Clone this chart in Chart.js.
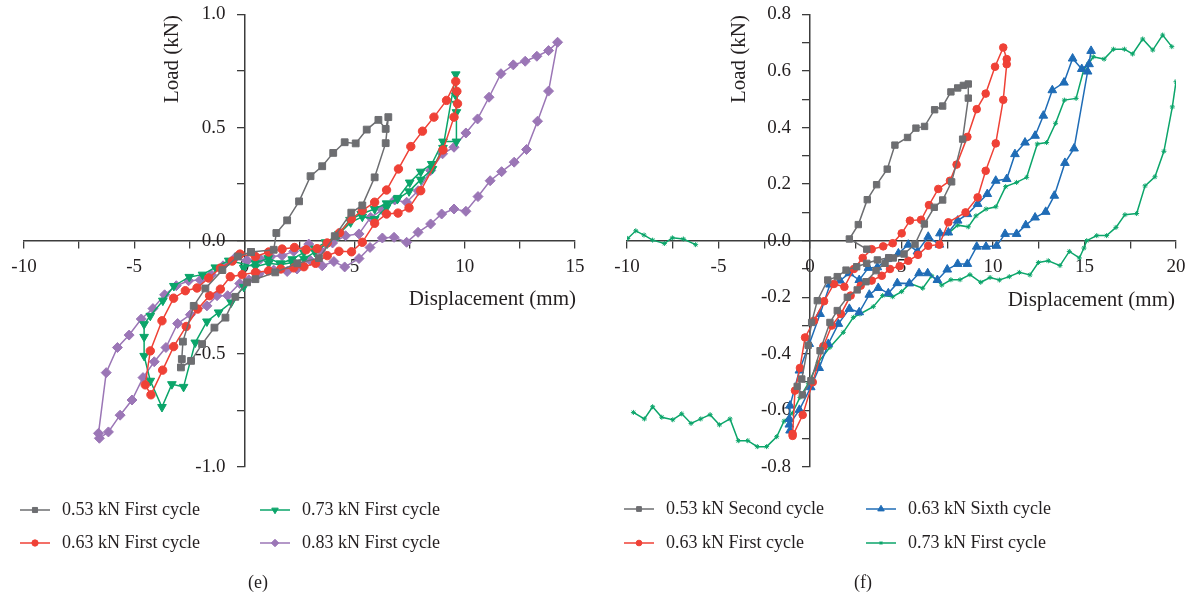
<!DOCTYPE html>
<html>
<head>
<meta charset="utf-8">
<script src="https://cdn.jsdelivr.net/npm/chart.js@4.4.1/dist/chart.umd.min.js"></script>
<style>
  html, body { margin: 0; padding: 0; background: #fff; }
  #wrap { position: relative; width: 1194px; height: 599px; }
  .panel { position: absolute; top: 0; width: 597px; height: 599px; }
</style>
</head>
<body>
<div id="wrap">
  <div class="panel" style="left:0"><canvas id="chartE"></canvas></div>
  <div class="panel" style="left:597px"><canvas id="chartF"></canvas></div>
</div>
<script>
// ---- panel (e) : first cycles, [displacement mm, load kN]
const e053 = [[0.30,-0.05],[1.33,-0.04],[1.45,0.034],[1.94,0.09],[2.48,0.174],[3.0,0.285],[3.53,0.329],[4.03,0.388],[4.55,0.435],[5.05,0.43],[5.55,0.491],[6.08,0.534],[6.41,0.494],[6.53,0.546],[6.41,0.431],[5.91,0.28],[5.35,0.156],[4.85,0.124],[4.1,0.02],[3.38,-0.077],[2.4,-0.1],[1.4,-0.14],[0.5,-0.17],[0.12,-0.184],[-0.41,-0.248],[-0.86,-0.34],[-1.36,-0.384],[-1.92,-0.457],[-2.42,-0.531],[-2.88,-0.56],[-2.84,-0.523],[-2.79,-0.446],[-2.3,-0.288],[-1.77,-0.211],[-1.0,-0.13],[-0.3,-0.07],[0.30,-0.05]];
const e063 = [[-0.2,-0.06],[0.5,-0.07],[1.1,-0.05],[1.71,-0.037],[2.27,-0.03],[2.8,-0.04],[3.3,-0.035],[3.76,-0.01],[4.32,0.035],[4.85,0.096],[5.35,0.133],[5.91,0.17],[6.45,0.224],[6.99,0.317],[7.55,0.416],[8.08,0.484],[8.6,0.546],[9.17,0.62],[9.59,0.704],[9.64,0.66],[9.67,0.605],[9.51,0.546],[9.01,0.401],[8.0,0.221],[7.47,0.145],[6.97,0.122],[6.45,0.118],[5.91,0.077],[5.35,-0.007],[4.86,-0.049],[4.29,-0.047],[3.76,-0.066],[3.23,-0.10],[2.7,-0.115],[2.24,-0.12],[1.65,-0.125],[1.1,-0.133],[0.5,-0.14],[-0.1,-0.15],[-0.64,-0.159],[-1.09,-0.214],[-1.58,-0.243],[-2.12,-0.302],[-2.64,-0.379],[-3.21,-0.468],[-3.71,-0.572],[-4.24,-0.681],[-4.5,-0.637],[-4.27,-0.487],[-3.74,-0.354],[-3.21,-0.254],[-2.68,-0.221],[-2.15,-0.209],[-1.62,-0.165],[-1.09,-0.121],[-0.55,-0.09],[-0.2,-0.06]];
const e073 = [[-0.03,-0.12],[0.5,-0.1],[1.08,-0.077],[1.64,-0.1],[2.17,-0.082],[2.7,-0.052],[3.2,-0.035],[3.68,-0.007],[4.21,0.022],[4.79,0.092],[5.3,0.118],[5.91,0.14],[6.45,0.165],[6.94,0.184],[7.47,0.218],[8.0,0.27],[8.53,0.317],[9.01,0.41],[9.59,0.735],[9.59,0.642],[9.62,0.605],[9.62,0.568],[9.62,0.438],[9.01,0.438],[8.5,0.339],[8.0,0.305],[7.5,0.257],[6.97,0.189],[6.45,0.147],[5.91,0.096],[5.35,0.106],[4.82,0.081],[4.29,0.03],[3.76,-0.012],[3.2,-0.05],[2.7,-0.08],[2.17,-0.096],[1.64,-0.106],[1.1,-0.1],[0.5,-0.115],[-0.71,-0.088],[-1.32,-0.118],[-1.9,-0.15],[-2.5,-0.16],[-3.2,-0.2],[-3.7,-0.265],[-4.27,-0.332],[-4.55,-0.369],[-4.55,-0.425],[-4.55,-0.509],[-4.27,-0.619],[-3.74,-0.735],[-3.29,-0.634],[-2.76,-0.646],[-2.23,-0.45],[-1.7,-0.357],[-1.17,-0.317],[-0.6,-0.273],[-0.03,-0.204]];
const e083 = [[0.12,-0.088],[0.73,-0.081],[1.2,-0.07],[1.71,-0.066],[2.24,-0.047],[2.92,-0.015],[3.45,-0.044],[4.0,-0.01],[4.59,0.022],[5.2,0.03],[5.73,0.103],[6.26,0.136],[6.82,0.18],[7.36,0.17],[7.88,0.221],[8.45,0.31],[8.99,0.384],[9.51,0.413],[10.05,0.476],[10.58,0.538],[11.1,0.634],[11.64,0.738],[12.2,0.777],[12.74,0.793],[13.27,0.815],[13.8,0.84],[14.21,0.877],[13.8,0.661],[13.3,0.528],[12.8,0.403],[12.24,0.347],[11.67,0.305],[11.15,0.265],[10.6,0.195],[10.05,0.13],[9.51,0.14],[8.95,0.118],[8.45,0.074],[7.88,0.037],[7.36,-0.007],[6.79,0.015],[6.26,0.012],[5.7,-0.03],[5.2,-0.079],[4.55,-0.116],[4.06,-0.092],[3.53,-0.111],[3.0,-0.088],[2.39,-0.125],[1.94,-0.136],[1.33,-0.13],[0.65,-0.148],[0.2,-0.173],[-0.21,-0.189],[-0.76,-0.243],[-1.24,-0.243],[-1.7,-0.288],[-2.45,-0.327],[-3.03,-0.366],[-3.56,-0.472],[-4.09,-0.535],[-4.6,-0.605],[-5.1,-0.704],[-5.64,-0.771],[-6.17,-0.845],[-6.58,-0.873],[-6.62,-0.851],[-6.27,-0.583],[-5.76,-0.472],[-5.23,-0.417],[-4.68,-0.346],[-4.15,-0.3],[-3.62,-0.239],[-3.09,-0.199],[-2.53,-0.177],[-2.0,-0.174],[-1.5,-0.15],[-0.97,-0.111],[-0.41,-0.074],[0.12,-0.088]];

// ---- panel (f)
const f053 = [[3.1,-0.03],[2.15,0.006],[2.64,0.057],[3.13,0.145],[3.64,0.198],[4.22,0.253],[4.64,0.338],[5.33,0.365],[5.79,0.398],[6.26,0.404],[6.81,0.463],[7.25,0.476],[7.7,0.526],[8.07,0.54],[8.38,0.549],[8.65,0.554],[8.65,0.504],[8.34,0.359],[7.74,0.208],[7.25,0.144],[6.79,0.118],[6.25,0.059],[5.74,-0.012],[5.14,-0.047],[4.55,-0.061],[4.1,-0.08],[3.61,-0.106],[3.06,-0.145],[2.58,-0.174],[2.04,-0.2],[1.49,-0.247],[1.09,-0.289],[0.55,-0.389],[0.05,-0.495],[-0.42,-0.545],[-0.7,-0.515],[-0.45,-0.489],[-0.1,-0.37],[0.09,-0.289],[0.4,-0.212],[0.97,-0.139],[1.49,-0.127],[1.97,-0.104],[2.55,-0.092],[3.1,-0.08],[3.68,-0.068],[4.3,-0.06]];
const f063 = [[-0.95,-0.683],[-0.82,-0.53],[-0.55,-0.45],[-0.27,-0.342],[0.22,-0.283],[0.77,-0.214],[1.31,-0.153],[1.88,-0.163],[2.4,-0.1],[2.88,-0.061],[3.37,-0.03],[4.0,-0.02],[4.52,-0.009],[5.01,0.026],[5.46,0.071],[6.07,0.074],[6.5,0.126],[7.01,0.183],[7.65,0.212],[8.01,0.269],[8.6,0.367],[9.11,0.465],[9.6,0.52],[10.11,0.615],[10.56,0.683],[10.75,0.642],[10.75,0.624],[10.56,0.498],[10.15,0.344],[9.6,0.247],[9.16,0.153],[8.5,0.1],[7.56,0.065],[7.07,-0.014],[6.46,-0.018],[5.9,-0.05],[5.37,-0.071],[4.9,-0.09],[4.37,-0.1],[3.92,-0.124],[3.37,-0.141],[2.77,-0.159],[2.22,-0.194],[1.69,-0.259],[1.19,-0.3],[0.73,-0.373],[0.15,-0.5],[-0.4,-0.616],[-0.95,-0.69]];
const f063six = [[-1.09,-0.671],[-1.13,-0.63],[-1.09,-0.583],[-0.58,-0.459],[-0.04,-0.365],[0.55,-0.259],[1.09,-0.155],[1.64,-0.141],[2.15,-0.115],[2.69,-0.139],[3.19,-0.096],[3.68,-0.094],[4.23,-0.065],[4.83,-0.045],[5.37,-0.014],[5.87,-0.038],[6.46,0.014],[7.07,-0.014],[7.1,0.026],[7.56,0.029],[8.07,0.071],[8.6,0.094],[9.16,0.13],[9.69,0.165],[10.15,0.212],[10.75,0.218],[11.2,0.306],[11.75,0.347],[12.3,0.371],[12.75,0.442],[13.24,0.532],[13.88,0.559],[14.35,0.644],[14.85,0.607],[15.25,0.624],[15.36,0.671],[15.17,0.598],[14.43,0.326],[13.93,0.275],[13.35,0.159],[12.88,0.102],[12.3,0.082],[11.79,0.055],[11.29,0.024],[10.66,0.024],[10.2,-0.018],[9.62,-0.021],[9.11,-0.021],[8.6,-0.082],[8.07,-0.082],[7.5,-0.102],[6.96,-0.139],[6.43,-0.115],[5.96,-0.115],[5.43,-0.151],[4.77,-0.15],[4.28,-0.186],[3.73,-0.167],[3.24,-0.191],[2.69,-0.253],[2.15,-0.241],[1.55,-0.294],[1.0,-0.365],[0.5,-0.45],[0.04,-0.518],[-0.58,-0.598],[-1.13,-0.65]];
// null pairs = breaks in the recorded curve
const f073 = [[-6.25,-0.014],[-6.92,0.006],[-7.52,0.01],[-7.96,-0.01],[-8.6,0.002],[-9.07,0.02],[-9.52,0.035],[-9.96,0.008],[null,null],
  [-9.65,-0.607],[-9.05,-0.63],[-8.6,-0.587],[-8.1,-0.624],[-7.5,-0.633],[-7.01,-0.612],[-6.5,-0.646],[-5.97,-0.63],[-5.46,-0.615],[-4.95,-0.651],[-4.37,-0.63],[-3.92,-0.707],[-3.4,-0.707],[-2.88,-0.728],[-2.37,-0.728],[-1.82,-0.693],[-1.42,-0.638],[-0.97,-0.61],[-0.55,-0.554],[-0.09,-0.504],[0.45,-0.43],[1.09,-0.377],[1.82,-0.324],[2.37,-0.271],[2.73,-0.259],[3.46,-0.233],[3.97,-0.194],[4.52,-0.198],[5.01,-0.18],[5.46,-0.151],[6.16,-0.168],[6.65,-0.124],[7.2,-0.157],[7.7,-0.138],[8.2,-0.138],[8.74,-0.12],[9.33,-0.147],[9.84,-0.13],[10.35,-0.139],[10.89,-0.127],[11.44,-0.112],[12.02,-0.121],[12.48,-0.077],[13.02,-0.071],[13.66,-0.088],[14.17,-0.038],[14.72,-0.061],[14.97,-0.026],[15.12,0.0],[15.67,0.018],[16.21,0.018],[16.72,0.047],[17.21,0.092],[17.85,0.096],[18.31,0.194],[18.85,0.226],[19.34,0.316],[19.8,0.473],[20.0,0.562],[null,null],
  [19.77,0.686],[19.27,0.727],[18.73,0.674],[18.18,0.713],[17.63,0.66],[17.18,0.677],[16.58,0.677],[16.07,0.642],[15.48,0.65],[15.21,0.624],[14.97,0.607],[14.54,0.503],[13.9,0.497],[13.42,0.415],[12.93,0.347],[12.42,0.342],[11.84,0.224],[11.29,0.206],[10.69,0.191],[10.16,0.12],[9.62,0.112],[9.07,0.088],[8.65,0.049],[8.07,0.055],[7.56,0.026]];

// tick positions (labels only on the major ones)
const xTicksE = [-10,-7.5,-5,-2.5,0,2.5,5,7.5,10,12.5,15];
const yTicksE = [-1,-0.75,-0.5,-0.25,0,0.25,0.5,0.75,1];
const xTicksF = [-10,-7.5,-5,-2.5,0,2.5,5,7.5,10,12.5,15,17.5,20];
const yTicksF = [-0.8,-0.7,-0.6,-0.5,-0.4,-0.3,-0.2,-0.1,0,0.1,0.2,0.3,0.4,0.5,0.6,0.7,0.8];

const GRAY = '#6d6e71', RED = '#ef4136', GREEN = '#0ba56a', PURPLE = '#9b76b6', BLUE = '#1f6cb6';
const TEXT = '#231f20', AXIS = '#3c3c3c';
const SERIF = '"Liberation Serif", "Times New Roman", serif';

Chart.defaults.font.family = SERIF;
Chart.defaults.color = TEXT;

function serie(label, pts, color, style, radius, rotation) {
  return {
    label: label,
    data: pts.map(p => ({x: p[0], y: p[1]})),
    showLine: true,
    spanGaps: false,
    borderColor: color,
    backgroundColor: color,
    borderWidth: 1.5,
    pointStyle: style,
    pointRadius: radius,
    pointHoverRadius: radius,
    pointRotation: rotation || 0,
    pointBorderWidth: 1,
    pointBorderColor: color,
    pointBackgroundColor: color
  };
}

function isMajor(v, step) {
  return Math.abs(v / step - Math.round(v / step)) < 1e-6;
}

function makeScales(cfg) {
  const gridOpts = {drawOnChartArea: false, drawTicks: true, tickLength: 7, color: AXIS, tickColor: AXIS, lineWidth: 1.3};
  return {
    x: {
      type: 'linear', position: {y: 0}, min: cfg.xTicks[0], max: cfg.xTicks[cfg.xTicks.length - 1],
      afterBuildTicks: s => { s.ticks = cfg.xTicks.map(v => ({value: v})); },
      ticks: {autoSkip: false, maxRotation: 0, padding: 8, font: {size: 19}, color: TEXT,
        callback: v => isMajor(v, cfg.xMajor) ? String(Math.round(v)) : ''},
      grid: gridOpts,
      border: {color: AXIS, width: 1.5}
    },
    y: {
      type: 'linear', position: {x: 0}, min: cfg.yTicks[0], max: cfg.yTicks[cfg.yTicks.length - 1],
      afterBuildTicks: s => { s.ticks = cfg.yTicks.map(v => ({value: v})); },
      // centred axis: labels sit right on the line, trailing spaces push them clear of the ticks
      ticks: {autoSkip: false, font: {size: 19}, color: TEXT,
        callback: v => isMajor(v, cfg.yMajor) ? v.toFixed(1) + '    ' : ''},
      grid: gridOpts,
      border: {color: AXIS, width: 1.5}
    }
  };
}

// axis titles, two-column legend and caption
const panelText = {
  id: 'panelText',
  afterDraw(chart, args, opts) {
    const ctx = chart.ctx;
    ctx.save();
    ctx.fillStyle = TEXT;
    ctx.font = '21px ' + SERIF;
    ctx.textBaseline = 'alphabetic';
    ctx.textAlign = 'right';
    ctx.fillText('Displacement (mm)', opts.xTitle[0], opts.xTitle[1]);
    ctx.save();
    ctx.translate(opts.yTitle[0], opts.yTitle[1]);
    ctx.rotate(-Math.PI / 2);
    ctx.fillText('Load (kN)', 0, 0);
    ctx.restore();

    ctx.font = '18px ' + SERIF;
    ctx.textBaseline = 'middle';
    ctx.textAlign = 'left';
    chart.data.datasets.forEach((ds, i) => {
      const p = opts.spots[i];
      ctx.strokeStyle = ds.borderColor;
      ctx.lineWidth = 1.5;
      ctx.beginPath();
      ctx.moveTo(p[0], p[1]);
      ctx.lineTo(p[0] + 30, p[1]);
      ctx.stroke();
      ctx.fillStyle = ds.borderColor;
      ctx.lineWidth = 1;
      Chart.helpers.drawPoint(ctx, {pointStyle: ds.pointStyle, radius: ds.pointRadius * 0.75,
        rotation: ds.pointRotation, borderWidth: 1}, p[0] + 15, p[1]);
      ctx.fillStyle = TEXT;
      ctx.fillText(ds.label, p[0] + 42, p[1]);
    });
    ctx.textAlign = 'center';
    ctx.fillText(opts.caption, opts.captionX, 583);
    ctx.restore();
  }
};

new Chart(document.getElementById('chartE'), {
  type: 'scatter',
  data: {datasets: [
    serie('0.53 kN First cycle', e053, GRAY, 'rect', 4.8),
    serie('0.63 kN First cycle', e063, RED, 'circle', 4.2),
    serie('0.73 kN First cycle', e073, GREEN, 'triangle', 5, 180),
    serie('0.83 kN First cycle', e083, PURPLE, 'rectRot', 5)
  ]},
  options: {
    responsive: true, maintainAspectRatio: false, animation: false,
    layout: {autoPadding: false, padding: {left: 24, right: 22, top: 14, bottom: 132}},
    scales: makeScales({xTicks: xTicksE, yTicks: yTicksE, xMajor: 5, yMajor: 0.5}),
    plugins: {
      legend: {display: false}, tooltip: {enabled: false},
      panelText: {xTitle: [576, 305], yTitle: [178, 15],
        spots: [[20, 510], [20, 543], [260, 510], [260, 543]], caption: '(e)', captionX: 258}
    }
  },
  plugins: [panelText]
});

new Chart(document.getElementById('chartF'), {
  type: 'scatter',
  data: {datasets: [
    serie('0.53 kN Second cycle', f053, GRAY, 'rect', 4.5),
    serie('0.63 kN First cycle', f063, RED, 'circle', 3.8),
    serie('0.63 kN Sixth cycle', f063six, BLUE, 'triangle', 5),
    serie('0.73 kN First cycle', f073, GREEN, 'star', 2.5)
  ]},
  options: {
    responsive: true, maintainAspectRatio: false, animation: false,
    layout: {autoPadding: false, padding: {left: 30, right: 18, top: 14, bottom: 132}},
    scales: makeScales({xTicks: xTicksF, yTicks: yTicksF, xMajor: 5, yMajor: 0.2}),
    plugins: {
      legend: {display: false}, tooltip: {enabled: false},
      panelText: {xTitle: [578, 306], yTitle: [148, 15],
        spots: [[27, 509], [27, 543], [269, 509], [269, 543]], caption: '(f)', captionX: 266}
    }
  },
  plugins: [panelText]
});
</script>
</body>
</html>
